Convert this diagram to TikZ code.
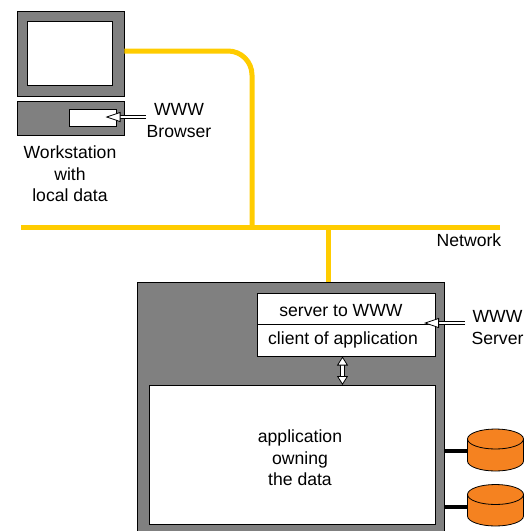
\documentclass[tikz,border=0pt]{standalone}
\usepackage{fontspec}
\setmainfont{Liberation Sans}
\usetikzlibrary{arrows.meta,calc}
\definecolor{netyellow}{HTML}{FFCC00}
\definecolor{boxgray}{HTML}{808080}
\definecolor{diskorange}{HTML}{F58220}

\begin{document}
\begin{tikzpicture}[x=1pt,y=-1pt,font=\fontsize{17.6}{21.3}\selectfont]
	\path [use as bounding box] (0,0) rectangle (526,531);
	\tikzstyle{graybox} = [rectangle, draw=black, fill=boxgray, line width=.8pt, inner sep=0pt]
	\tikzstyle{whitebox} = [rectangle, draw=black, fill=white, line width=.8pt, inner sep=0pt]
	\tikzstyle{net} = [draw=netyellow, line width=5pt]
	\tikzstyle{fat} = [draw=black, line width=.8pt, double=white, double distance=2.6pt]
	\tikzstyle{disk} = [draw=black, fill=diskorange, line width=.8pt]
	\tikzstyle{label} = [align=center, inner sep=0pt]
	% network
	\coordinate (NL) at (21,227);
	\coordinate (NR) at (500,227);
	\coordinate (NA) at (252,227);
	\coordinate (NB) at (328,227);
	\draw[net] (NL) -- (NR);
	\node[label] (network) at (469,240) {Network};
	% workstation
	\node[graybox, minimum width=107pt, minimum height=85pt] (monitor) at (70.5,53.5) {};
	\node[whitebox, minimum width=85pt, minimum height=64pt] (screen) at (70,53) {};
	\node[graybox, minimum width=107pt, minimum height=34pt] (case) at (70.5,118) {};
	\node[whitebox, minimum width=47pt, minimum height=17pt] (slot) at (92.5,118) {};
	\coordinate (BT) at (146,117);
	\coordinate (BH) at (105.5,117);
	\draw[fat, -{Triangle[length=15pt,width=10pt,fill=white,line width=.8pt]}] (BT) -- (BH);
	\node[label] (browser) at (179,120.5) {WWW\\Browser};
	\node[label] (station) at (70,174) {Workstation\\with\\local data};
	\draw[net, rounded corners=24pt] (monitor.east |- 0,51) -- (NA |- 0,51) -- (NA);
	% server
	\draw[net] (NB) -- (328,282);
	\node[graybox, minimum width=307pt, minimum height=249pt] (server) at (290.5,406.5) {};
	\node[whitebox, minimum width=178pt, minimum height=31pt] (wwwbox) at (346,308.5) {};
	\node[whitebox, minimum width=178pt, minimum height=32pt] (clientbox) at (346,340) {};
	\node[whitebox, minimum width=286pt, minimum height=139pt] (appbox) at (292,454.5) {};
	\node[label] (wwwtext) at (341,311) {server to WWW};
	\node[label] (clienttext) at (343,340) {client of application};
	\node[label] (apptext) at (300,458) {application\\owning\\the data};
	\coordinate (ST) at (465,323);
	\coordinate (SH) at (424,323);
	\draw[fat, -{Triangle[length=15pt,width=10pt,fill=white,line width=.8pt]}] (ST) -- (SH);
	\node[label] (wwwserver) at (497.5,327.5) {WWW\\Server};
	\coordinate (UA) at (342.5,356.5);
	\coordinate (UB) at (342.5,385);
	\draw[fat, {Triangle[length=9pt,width=11pt,fill=white,line width=.8pt]}-{Triangle[length=9pt,width=11pt,fill=white,line width=.8pt]}] (UA) -- (UB);
	% disks
	\foreach \n/\top/\bot in {A/439/461, B/494.5/516} {
		\coordinate (disk\n) at (467.5,\top);
		\coordinate (base\n) at (467.5,\bot);
		\draw[disk] (disk\n) -- (base\n) arc (180:360:28pt and 10pt) -- ($(disk\n)+(56,0)$) arc (0:180:28pt and 10pt) -- cycle;
		\draw[disk, fill=none] (disk\n) arc (180:360:28pt and 10pt);
	}
	\draw[line width=3.2pt] (444,451) -- (baseA |- 0,451);
	\draw[line width=3.2pt] (444,507) -- (baseB |- 0,507);
\end{tikzpicture}
\end{document}
